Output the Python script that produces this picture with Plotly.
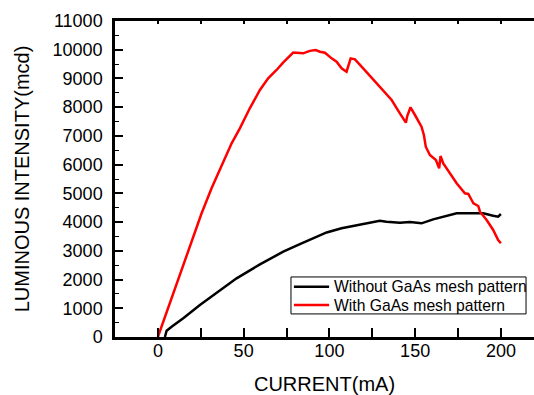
import plotly.graph_objects as go

# Data
current_without = [4.1, 5.1, 8, 14.8, 24.5, 34.2, 45.9, 59.5, 73.1, 82.8, 98.4, 107.1, 112, 118,
                   123.6, 129.4, 133.3, 141.1, 147, 153.7, 160.5, 168.3, 174.2, 183.9, 189.7,
                   195.5, 198.4, 200]
lum_without = [0, 220, 360, 650, 1114, 1543, 2043, 2530, 2970, 3230, 3640, 3784, 3841, 3900,
               3980, 4048, 4015, 3980, 4000, 3957, 4096, 4212, 4305, 4305, 4305, 4224, 4189, 4282]

current_with = [0, 7, 14.8, 20.6, 25.5, 31.3, 37.1, 43, 47.8, 53.6, 59.5, 64.3, 69.2, 73, 78.9,
                81.8, 84.7, 88.6, 92, 94.5, 97.4, 101.3, 104.2, 107.1, 110, 112.4, 114.9, 119.7,
                123.5, 127.5, 132, 136.3, 141.1, 144.6, 145.4, 147.3, 149.9, 153.7, 155.1, 156.2,
                158.6, 162.1, 164, 164.8, 166.4, 170.3, 174.2, 179, 181, 183, 184, 186.8, 187.8,
                191.7, 195.5, 198.4, 200]
lum_with = [0, 1173, 2447, 3491, 4306, 5176, 5929, 6743, 7264, 7961, 8598, 9004, 9294, 9550, 9900,
            9875, 9875, 9960, 9990, 9932, 9897, 9700, 9584, 9352, 9236, 9700, 9666, 9352,
            9100, 8830, 8530, 8250, 7787, 7460, 7693, 7996, 7728, 7321, 7032, 6625,
            6335, 6161, 5872, 6300, 6045, 5698, 5350, 5002, 4980, 4760, 4650, 4560, 4362,
            4073, 3725, 3377, 3262]

series_names = ["Without GaAs mesh pattern", "With GaAs mesh pattern"]
series_colors = ["black", "#ff0000"]

x_tick_vals = [0, 50, 100, 150, 200]
y_tick_vals = list(range(0, 11001, 1000))

FONT = "Liberation Sans, Arial, sans-serif"

fig = go.Figure()
fig.add_trace(go.Scatter(x=current_without, y=lum_without, mode="lines",
                         name=series_names[0], showlegend=False,
                         line=dict(color=series_colors[0], width=2.5)))
fig.add_trace(go.Scatter(x=current_with, y=lum_with, mode="lines", xaxis="x2",
                         name=series_names[1], showlegend=False,
                         line=dict(color=series_colors[1], width=2.5)))

# legend drawn as a framed box (paper coordinates)
leg_x0, leg_x1, leg_y0, leg_y1 = 0.420, 0.981, 0.073, 0.190
row_y = [0.159, 0.101]
shapes = [dict(type="rect", xref="paper", yref="paper", x0=leg_x0, x1=leg_x1,
               y0=leg_y0, y1=leg_y1, line=dict(color="black", width=1),
               fillcolor="white", layer="above")]
annotations = []
for name, color, yy in zip(series_names, series_colors, row_y):
    shapes.append(dict(type="line", xref="paper", yref="paper", x0=0.427, x1=0.511,
                       y0=yy, y1=yy, line=dict(color=color, width=2.5), layer="above"))
    annotations.append(dict(text=name, xref="paper", yref="paper", x=0.519, y=yy,
                            xanchor="left", yanchor="middle", showarrow=False,
                            font=dict(size=15.7, family=FONT, color="black")))

xr = [-25, 219.3]
fig.update_layout(
    width=534, height=395,
    margin=dict(l=115, r=0, t=21, b=58),
    paper_bgcolor="white", plot_bgcolor="white",
    font=dict(family=FONT, color="black"),
    shapes=shapes, annotations=annotations,
    xaxis=dict(range=xr, tickvals=x_tick_vals, tickformat="d", ticks="inside", ticklen=3,
               tickwidth=1.5, automargin=False, ticklabelstandoff=-4,
               tickcolor="black", showline=True, linecolor="black", linewidth=2.5,
               showgrid=False, zeroline=False, mirror=False,
               tickfont=dict(size=18, family=FONT),
               minor=dict(dtick=25, tick0=0, ticks="inside", ticklen=9, tickwidth=1.5,
                          tickcolor="black", showgrid=False),
               title=dict(text="CURRENT(mA)", font=dict(size=20, family=FONT), standoff=17)),
    xaxis2=dict(range=xr, overlaying="x", side="top", anchor="y", dtick=25, tick0=0,
                ticks="inside", ticklen=3, tickwidth=1.5, tickcolor="black", automargin=False,
                showticklabels=False, showline=True, linecolor="black", linewidth=2.5,
                showgrid=False, zeroline=False),
    yaxis=dict(range=[0, 11000], tickvals=y_tick_vals, tickformat="d", ticks="inside",
               ticklen=8, tickwidth=1.5, automargin=False, ticklabelstandoff=6,
               tickcolor="black", showline=True, linecolor="black", linewidth=2.5,
               showgrid=False, zeroline=False, mirror=False,
               tickfont=dict(size=18, family=FONT),
               minor=dict(dtick=500, tick0=0, ticks="inside", ticklen=4, tickwidth=1.2,
                          tickcolor="black", showgrid=False),
               title=dict(text="LUMINOUS INTENSITY(mcd)", font=dict(size=20, family=FONT),
                          standoff=18)),
    showlegend=False,
)

fig.write_html("out.html", config={"displayModeBar": False},
               post_script="document.body.style.margin='0px';")
